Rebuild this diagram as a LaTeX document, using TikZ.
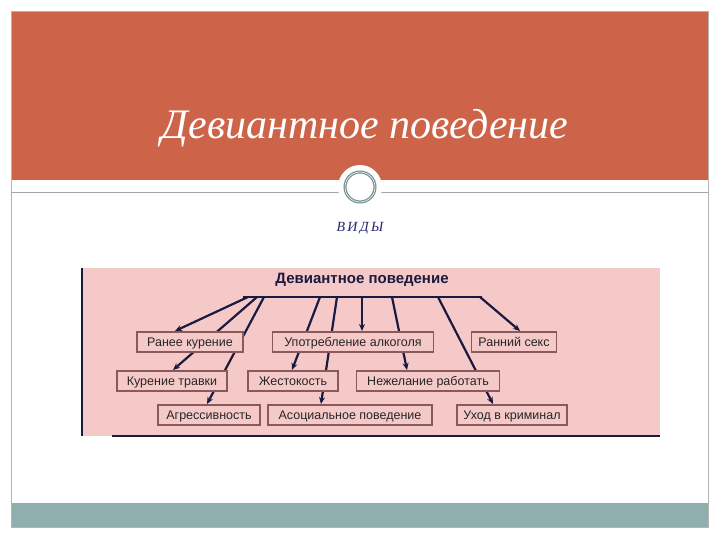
\documentclass[tikz,border=0pt]{standalone}
\usepackage{fontspec}
\setmainfont{Liberation Serif}
\newfontfamily\boxfont{Liberation Sans}
\usetikzlibrary{arrows.meta}
\begin{document}
\begin{tikzpicture}[x=1pt,y=-1pt,
  bx/.style={draw=boxd,fill=pinkbg,line width=1.3pt,font=\boxfont\fontsize{12.5}{14}\selectfont,inner sep=0pt,minimum height=20pt,text=black!85,text depth=0pt},
  ar/.style={line width=2.2pt,draw=navy,-{Stealth[length=7pt,width=6pt]}}]
\definecolor{pinkbg}{HTML}{F6C9C9}
\definecolor{boxd}{HTML}{8A5A5A}
\definecolor{navy}{HTML}{1A1A40}
\definecolor{hdr}{HTML}{CD6449}
\definecolor{teal}{HTML}{8FAFAF}
\useasboundingbox (0,0) rectangle (720,540);
\fill[white] (0,0) rectangle (720,540);
\fill[hdr] (11,11) rectangle (708,180);
\fill[teal] (11,503) rectangle (708,527);
\draw[gray!60,line width=0.6pt] (11,11) rectangle (708,527);
\draw[gray!70,line width=0.8pt] (11,192) -- (708,192);
\fill[white] (360,187) circle (22);
\draw[teal!80!black,line width=3pt] (360,187) circle (15);
\draw[white,line width=0.6pt] (360,187) circle (15);
\node[font=\itshape\fontsize{42}{48}\selectfont,text=white] (title) at (365,128) {Девиантное поведение};
\node[font=\itshape\fontsize{14}{18}\selectfont,text=black!60!blue!70!gray] (sub) at (360,228) {В\,И\,Д\,Ы};
% diagram
\fill[pinkbg] (82,268) rectangle (660,436);
\draw[navy,line width=1.2pt] (82,268) -- (82,436);
\draw[navy,line width=1.8pt] (112,436) -- (660,436);
\node[font=\boxfont\bfseries\fontsize{15}{17}\selectfont,text=navy] (top) at (362,280) {Девиантное поведение};
\coordinate (hl) at (243,297); \coordinate (hr) at (482,297);
\draw[navy,line width=2.2pt] (hl) -- (hr);
\coordinate (s1) at (248,297); \coordinate (s2) at (257,297); \coordinate (s3) at (264,297);
\coordinate (s4) at (320,297); \coordinate (s5) at (337,297); \coordinate (s6) at (362,297);
\coordinate (s7) at (392,297); \coordinate (s8) at (438,297); \coordinate (s9) at (480,297);
\coordinate (t1) at (175,331); \coordinate (t2) at (173,370); \coordinate (t3) at (207,404);
\coordinate (t4) at (292,370); \coordinate (t5) at (321,404); \coordinate (t6) at (362,331);
\coordinate (t7) at (407,370); \coordinate (t8) at (493,404); \coordinate (t9) at (520,331);
\foreach \i in {1,...,9} \draw[ar] (s\i) -- (t\i);
\node[bx,minimum width=106pt] (b1) at (190,342) {Ранее курение};
\node[bx,minimum width=161pt] (b2) at (353,342) {Употребление алкоголя};
\node[bx,minimum width=85pt] (b3) at (514,342) {Ранний секс};
\node[bx,minimum width=110pt] (b4) at (172,381) {Курение травки};
\node[bx,minimum width=90pt] (b5) at (293,381) {Жестокость};
\node[bx,minimum width=143pt] (b6) at (428,381) {Нежелание работать};
\node[bx,minimum width=102pt] (b7) at (209,415) {Агрессивность};
\node[bx,minimum width=164pt] (b8) at (350,415) {Асоциальное поведение};
\node[bx,minimum width=110pt] (b9) at (512,415) {Уход в криминал};
\end{tikzpicture}
\end{document}
